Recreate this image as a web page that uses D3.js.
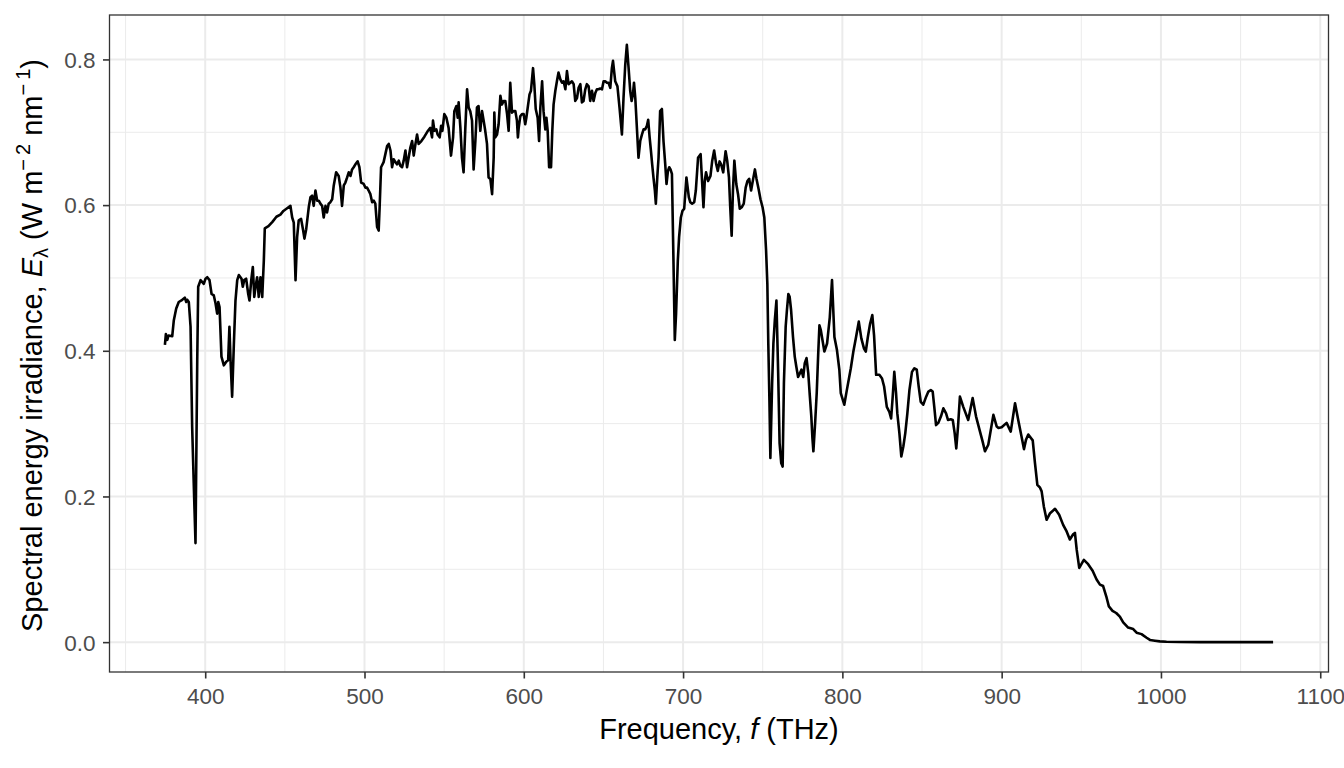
<!DOCTYPE html>
<html lang="en">
<head>
<meta charset="UTF-8">
<title>Solar spectrum vs frequency</title>
<script src="https://cdn.jsdelivr.net/npm/d3@7"></script>
<style>
  body { margin: 0; background: #fff; }
  text { font-family: "Liberation Sans", Arial, sans-serif; }
</style>
</head>
<body>
<svg id="chart" width="1344" height="768"></svg>
<script>
// frequency (THz) and spectral irradiance
var freqTHz = [
  374.7, 375.3, 376.2, 377.0, 379.3, 380.3, 381.8, 383.4, 385.6, 387.2, 388.1, 388.7, 389.7, 390.8, 391.8, 392.8,
  393.9, 395.0, 395.6, 397.1, 399.1, 400.2, 401.3, 402.7, 404.0, 405.4, 406.5, 407.5, 408.2, 409.0, 410.2, 411.7,
  413.2, 414.4, 415.2, 415.9, 416.9, 418.0, 419.0, 420.1, 421.1, 422.8, 423.6, 424.5, 425.7, 427.0, 427.8, 428.9,
  429.9, 430.8, 431.6, 432.6, 433.6, 434.7, 435.8, 436.8, 437.4, 439.7, 442.2, 444.7, 447.2, 449.1, 451.0, 453.5,
  454.6, 455.6, 456.7, 457.7, 458.7, 460.2, 461.5, 462.3, 463.4, 465.0, 466.1, 467.1, 468.1, 469.2, 470.3, 471.3,
  472.3, 473.4, 474.4, 475.5, 476.5, 477.5, 478.6, 479.7, 480.7, 482.2, 483.8, 484.9, 485.9, 487.0, 488.0, 489.1,
  490.1, 491.2, 492.2, 493.2, 494.3, 495.7, 496.8, 497.9, 499.5, 500.6, 501.6, 502.6, 503.7, 504.8, 505.8, 506.8,
  507.9, 508.9, 509.5, 510.4, 512.0, 513.1, 514.2, 515.2, 516.3, 517.3, 518.3, 519.4, 520.5, 521.5, 522.5, 523.6,
  524.6, 525.7, 526.7, 527.7, 528.8, 529.9, 530.9, 532.0, 533.0, 534.0, 535.7, 537.6, 539.5, 541.3, 542.4, 543.0,
  543.9, 545.1, 545.9, 547.2, 548.1, 548.9, 550.1, 551.4, 552.8, 554.3, 555.6, 556.4, 557.7, 558.5, 559.1, 560.2,
  561.2, 562.2, 563.3, 564.4, 565.4, 566.4, 567.5, 568.5, 569.6, 570.6, 571.6, 572.7, 573.8, 574.8, 575.8, 576.9,
  577.9, 579.0, 580.1, 581.1, 581.5, 582.1, 583.2, 584.2, 585.3, 586.3, 587.3, 588.4, 589.5, 590.5, 591.5, 592.6,
  593.6, 594.7, 595.7, 596.3, 596.8, 597.8, 598.9, 599.9, 600.9, 601.6, 603.6, 604.5, 605.8, 606.6, 607.5, 608.7,
  609.6, 610.4, 611.5, 612.4, 613.5, 614.2, 615.0, 615.9, 617.1, 617.9, 618.7, 619.8, 620.8, 621.8, 622.9, 624.0,
  625.0, 626.1, 627.1, 628.1, 629.2, 630.2, 631.3, 632.3, 633.4, 634.4, 635.5, 636.5, 637.5, 638.6, 639.6, 640.7,
  641.7, 642.8, 643.8, 644.9, 645.9, 646.9, 648.0, 649.1, 650.1, 651.1, 652.2, 653.2, 654.3, 655.3, 656.0, 656.8,
  657.4, 658.8, 660.1, 661.6, 662.6, 663.7, 664.7, 665.8, 666.8, 667.7, 668.5, 669.2, 670.0, 671.0, 672.0, 673.1,
  674.2, 675.2, 676.2, 677.3, 678.1, 679.0, 679.8, 680.6, 681.4, 682.3, 682.9, 683.8, 684.6, 685.6, 686.7, 687.7,
  688.8, 689.6, 690.5, 691.3, 692.1, 693.0, 694.0, 694.8, 695.6, 696.7, 697.5, 698.6, 699.6, 700.7, 702.1, 703.6,
  704.5, 705.7, 707.0, 708.0, 709.4, 711.0, 712.8, 713.6, 714.4, 715.7, 717.2, 718.3, 719.5, 720.8, 721.8, 722.9,
  723.9, 725.2, 726.7, 727.7, 728.8, 729.6, 730.5, 731.3, 732.2, 733.4, 734.5, 735.6, 736.8, 738.1, 739.3, 740.4,
  741.5, 742.7, 744.0, 745.1, 746.1, 747.4, 748.6, 749.9, 751.0, 752.1, 752.9, 753.5, 754.2, 754.8, 755.9, 756.7,
  757.6, 758.6, 759.7, 760.6, 761.6, 762.5, 763.3, 764.4, 765.2, 766.1, 766.9, 767.8, 769.0, 770.1, 771.1, 772.2,
  773.3, 774.3, 775.4, 776.4, 777.5, 778.6, 779.6, 780.5, 781.2, 781.8, 782.9, 783.9, 784.8, 785.6, 786.5, 788.7,
  790.4, 792.1, 793.5, 795.0, 796.6, 798.1, 799.0, 801.2, 802.8, 805.3, 806.9, 808.6, 810.3, 811.9, 813.6, 814.7,
  816.0, 817.4, 818.8, 819.9, 821.2, 823.2, 824.9, 826.2, 827.9, 829.5, 830.6, 831.6, 832.6, 833.7, 834.5, 835.8,
  837.0, 838.3, 839.5, 840.8, 842.1, 843.7, 845.2, 846.7, 847.9, 849.2, 850.8, 852.6, 854.0, 855.5, 856.7, 857.7,
  858.8, 860.2, 861.9, 863.4, 865.1, 866.3, 868.0, 869.3, 870.5, 871.5, 872.6, 873.8, 875.9, 879.0, 881.8, 883.9,
  886.4, 888.1, 889.5, 891.6, 894.8, 896.9, 898.0, 900.0, 903.1, 905.7, 908.4, 910.4, 912.5, 914.0, 915.3, 916.7,
  919.5, 920.9, 922.4, 924.1, 925.1, 926.5, 928.2, 930.4, 933.5, 936.1, 938.6, 940.8, 942.8, 944.9, 946.0, 947.1,
  948.7, 951.6, 954.3, 957.1, 959.6, 961.7, 963.7, 965.9, 967.3, 969.6, 971.9, 974.2, 976.3, 979.4, 982.6, 984.7,
  987.8, 991.0, 993.1, 996.2, 999.3, 1003.5, 1011.8, 1025.0, 1040.0, 1055.0, 1070.4
];
var irradiance = [
  0.408, 0.423, 0.415, 0.421, 0.420, 0.442, 0.458, 0.467, 0.470, 0.473, 0.467, 0.470, 0.467, 0.433, 0.296, 0.218,
  0.136, 0.387, 0.488, 0.497, 0.492, 0.499, 0.501, 0.497, 0.478, 0.476, 0.465, 0.451, 0.467, 0.460, 0.392, 0.380,
  0.385, 0.387, 0.433, 0.387, 0.337, 0.410, 0.469, 0.497, 0.504, 0.499, 0.488, 0.497, 0.499, 0.478, 0.469, 0.497,
  0.515, 0.474, 0.488, 0.501, 0.474, 0.501, 0.474, 0.524, 0.568, 0.571, 0.577, 0.584, 0.587, 0.592, 0.595, 0.599,
  0.583, 0.576, 0.497, 0.556, 0.579, 0.581, 0.565, 0.554, 0.567, 0.597, 0.611, 0.613, 0.599, 0.620, 0.606, 0.606,
  0.602, 0.599, 0.583, 0.599, 0.590, 0.602, 0.604, 0.608, 0.627, 0.645, 0.640, 0.624, 0.599, 0.627, 0.631, 0.638,
  0.645, 0.640, 0.649, 0.652, 0.656, 0.660, 0.652, 0.631, 0.629, 0.624, 0.624, 0.620, 0.615, 0.604, 0.606, 0.602,
  0.570, 0.565, 0.597, 0.652, 0.659, 0.670, 0.681, 0.684, 0.675, 0.652, 0.663, 0.659, 0.656, 0.661, 0.654, 0.652,
  0.661, 0.675, 0.652, 0.665, 0.679, 0.688, 0.668, 0.684, 0.697, 0.684, 0.688, 0.694, 0.701, 0.706, 0.693, 0.716,
  0.702, 0.704, 0.697, 0.693, 0.709, 0.702, 0.725, 0.720, 0.706, 0.668, 0.693, 0.729, 0.736, 0.720, 0.741, 0.706,
  0.665, 0.645, 0.706, 0.759, 0.734, 0.729, 0.716, 0.649, 0.688, 0.734, 0.736, 0.702, 0.729, 0.716, 0.702, 0.684,
  0.638, 0.636, 0.615, 0.665, 0.727, 0.693, 0.697, 0.711, 0.750, 0.738, 0.743, 0.743, 0.725, 0.702, 0.768, 0.727,
  0.729, 0.729, 0.716, 0.693, 0.706, 0.722, 0.725, 0.725, 0.711, 0.720, 0.752, 0.757, 0.788, 0.766, 0.732, 0.720,
  0.688, 0.734, 0.770, 0.729, 0.704, 0.720, 0.702, 0.652, 0.652, 0.702, 0.738, 0.757, 0.770, 0.782, 0.773, 0.768,
  0.770, 0.759, 0.784, 0.766, 0.768, 0.770, 0.766, 0.743, 0.747, 0.761, 0.766, 0.741, 0.743, 0.759, 0.766, 0.763,
  0.743, 0.757, 0.743, 0.754, 0.759, 0.759, 0.760, 0.759, 0.770, 0.770, 0.768, 0.768, 0.761, 0.788, 0.798, 0.782,
  0.770, 0.763, 0.734, 0.697, 0.747, 0.793, 0.820, 0.788, 0.757, 0.743, 0.752, 0.768, 0.747, 0.706, 0.665, 0.688,
  0.697, 0.704, 0.704, 0.709, 0.717, 0.693, 0.675, 0.656, 0.638, 0.620, 0.602, 0.638, 0.665, 0.729, 0.732, 0.688,
  0.656, 0.629, 0.647, 0.652, 0.649, 0.643, 0.519, 0.415, 0.451, 0.524, 0.556, 0.583, 0.592, 0.595, 0.638, 0.611,
  0.604, 0.602, 0.604, 0.620, 0.665, 0.670, 0.597, 0.633, 0.645, 0.633, 0.640, 0.661, 0.675, 0.656, 0.647, 0.660,
  0.656, 0.645, 0.674, 0.661, 0.638, 0.597, 0.558, 0.620, 0.661, 0.629, 0.615, 0.595, 0.597, 0.602, 0.624, 0.633,
  0.636, 0.620, 0.636, 0.649, 0.636, 0.622, 0.608, 0.597, 0.583, 0.538, 0.492, 0.410, 0.332, 0.253, 0.355, 0.410,
  0.442, 0.469, 0.369, 0.273, 0.246, 0.241, 0.355, 0.433, 0.456, 0.478, 0.474, 0.456, 0.419, 0.392, 0.378, 0.364,
  0.369, 0.374, 0.364, 0.383, 0.390, 0.369, 0.337, 0.310, 0.280, 0.262, 0.301, 0.342, 0.394, 0.435, 0.428, 0.399,
  0.410, 0.446, 0.497, 0.419, 0.401, 0.374, 0.342, 0.326, 0.346, 0.376, 0.399, 0.419, 0.440, 0.417, 0.403, 0.399,
  0.419, 0.437, 0.449, 0.421, 0.367, 0.367, 0.362, 0.351, 0.323, 0.316, 0.307, 0.337, 0.371, 0.342, 0.314, 0.287,
  0.255, 0.269, 0.287, 0.314, 0.346, 0.371, 0.376, 0.374, 0.351, 0.330, 0.326, 0.337, 0.344, 0.346, 0.344, 0.323,
  0.298, 0.301, 0.310, 0.321, 0.314, 0.305, 0.306, 0.305, 0.287, 0.266, 0.296, 0.337, 0.323, 0.305, 0.335, 0.310,
  0.289, 0.275, 0.262, 0.271, 0.312, 0.296, 0.294, 0.295, 0.301, 0.289, 0.328, 0.305, 0.282, 0.265, 0.278, 0.285,
  0.277, 0.246, 0.216, 0.212, 0.207, 0.186, 0.168, 0.177, 0.183, 0.175, 0.161, 0.152, 0.141, 0.148, 0.150, 0.127,
  0.102, 0.113, 0.107, 0.098, 0.086, 0.079, 0.077, 0.061, 0.049, 0.043, 0.040, 0.035, 0.027, 0.020, 0.018, 0.013,
  0.011, 0.006, 0.003, 0.002, 0.001, 0.0005, 0.0002, 0, 0, 0, 0
];
var xTicks = [400, 500, 600, 700, 800, 900, 1000, 1100];
var xMinor = [350, 450, 550, 650, 750, 850, 950, 1050];
var yTicks = [0, 0.2, 0.4, 0.6, 0.8];
var yMinor = [0.1, 0.3, 0.5, 0.7];

var panel = { left: 109.5, right: 1328.5, top: 15, bottom: 672 };

var svg = d3.select("#chart");
svg.append("rect").attr("width", 1344).attr("height", 768).attr("fill", "#ffffff");

// same mapping as the ggplot panel (5% expansion of data range)
var xData = d3.extent(freqTHz);
var xPad = (xData[1] - xData[0]) * 0.05;
var x = d3.scaleLinear()
    .domain([xData[0] - xPad, xData[1] + xPad])
    .range([panel.left, panel.right]);
var yMax = d3.max(irradiance);
var yPad = yMax * 0.05;
var y = d3.scaleLinear()
    .domain([-yPad, yMax + yPad])
    .range([panel.bottom, panel.top]);

var grid = svg.append("g");
grid.selectAll(".xminor").data(xMinor).enter().append("line")
    .attr("x1", function (d) { return x(d); }).attr("x2", function (d) { return x(d); })
    .attr("y1", panel.top).attr("y2", panel.bottom)
    .attr("stroke", "#ebebeb").attr("stroke-width", 1);
grid.selectAll(".yminor").data(yMinor).enter().append("line")
    .attr("y1", function (d) { return y(d); }).attr("y2", function (d) { return y(d); })
    .attr("x1", panel.left).attr("x2", panel.right)
    .attr("stroke", "#ebebeb").attr("stroke-width", 1);
grid.selectAll(".xmajor").data(xTicks).enter().append("line")
    .attr("x1", function (d) { return x(d); }).attr("x2", function (d) { return x(d); })
    .attr("y1", panel.top).attr("y2", panel.bottom)
    .attr("stroke", "#ebebeb").attr("stroke-width", 2);
grid.selectAll(".ymajor").data(yTicks).enter().append("line")
    .attr("y1", function (d) { return y(d); }).attr("y2", function (d) { return y(d); })
    .attr("x1", panel.left).attr("x2", panel.right)
    .attr("stroke", "#ebebeb").attr("stroke-width", 2);

var line = d3.line()
    .x(function (d, i) { return x(freqTHz[i]); })
    .y(function (d) { return y(d); });
svg.append("path")
    .datum(irradiance)
    .attr("d", line)
    .attr("fill", "none")
    .attr("stroke", "#000000")
    .attr("stroke-width", 2.6)
    .attr("stroke-linejoin", "round");

svg.append("rect")
    .attr("x", panel.left).attr("y", panel.top)
    .attr("width", panel.right - panel.left).attr("height", panel.bottom - panel.top)
    .attr("fill", "none").attr("stroke", "#333333").attr("stroke-width", 1.3);

// axes
var xAxis = svg.append("g")
    .attr("transform", "translate(0," + panel.bottom + ")")
    .call(d3.axisBottom(x).tickValues(xTicks).tickSizeOuter(0).tickSize(6.5).tickFormat(d3.format("d")));
var yAxis = svg.append("g")
    .attr("transform", "translate(" + panel.left + ",0)")
    .call(d3.axisLeft(y).tickValues(yTicks).tickSizeOuter(0).tickSize(6.5).tickFormat(d3.format(".1f")));

[xAxis, yAxis].forEach(function (g) {
    g.select(".domain").remove();
    g.selectAll(".tick line").attr("stroke", "#333333").attr("stroke-width", 1.6);
    g.selectAll(".tick text")
        .attr("fill", "#4d4d4d")
        .style("font-size", "22.5px")
        .style("font-family", "'Liberation Sans', Arial, sans-serif");
});
xAxis.selectAll(".tick text").attr("y", 31.5).attr("dy", null);
yAxis.selectAll(".tick text").attr("x", -14).attr("dy", "0.35em");

// axis titles
var xTitle = svg.append("text")
    .attr("x", (panel.left + panel.right) / 2)
    .attr("y", 739)
    .attr("text-anchor", "middle")
    .style("font-size", "29px")
    .attr("fill", "#000");
xTitle.append("tspan").text("Frequency, ");
xTitle.append("tspan").attr("font-style", "italic").text("f");
xTitle.append("tspan").text(" (THz)");

var yTitle = svg.append("text")
    .attr("transform", "translate(42," + ((panel.top + panel.bottom) / 2 + 2) + ") rotate(-90)")
    .attr("text-anchor", "middle")
    .style("font-size", "29px")
    .attr("fill", "#000");
yTitle.append("tspan").text("Spectral energy irradiance, ");
yTitle.append("tspan").attr("font-style", "italic").text("E");
yTitle.append("tspan").attr("dy", 6).style("font-size", "20px").text("\u03bb");
yTitle.append("tspan").attr("dy", -6).text(" (W m");
yTitle.append("tspan").attr("dy", -12).style("font-size", "20px").text("\u2212\u20092");
yTitle.append("tspan").attr("dy", 12).text(" nm");
yTitle.append("tspan").attr("dy", -12).style("font-size", "20px").text("\u2212\u20091");
yTitle.append("tspan").attr("dy", 12).text(")");
</script>
</body>
</html>
